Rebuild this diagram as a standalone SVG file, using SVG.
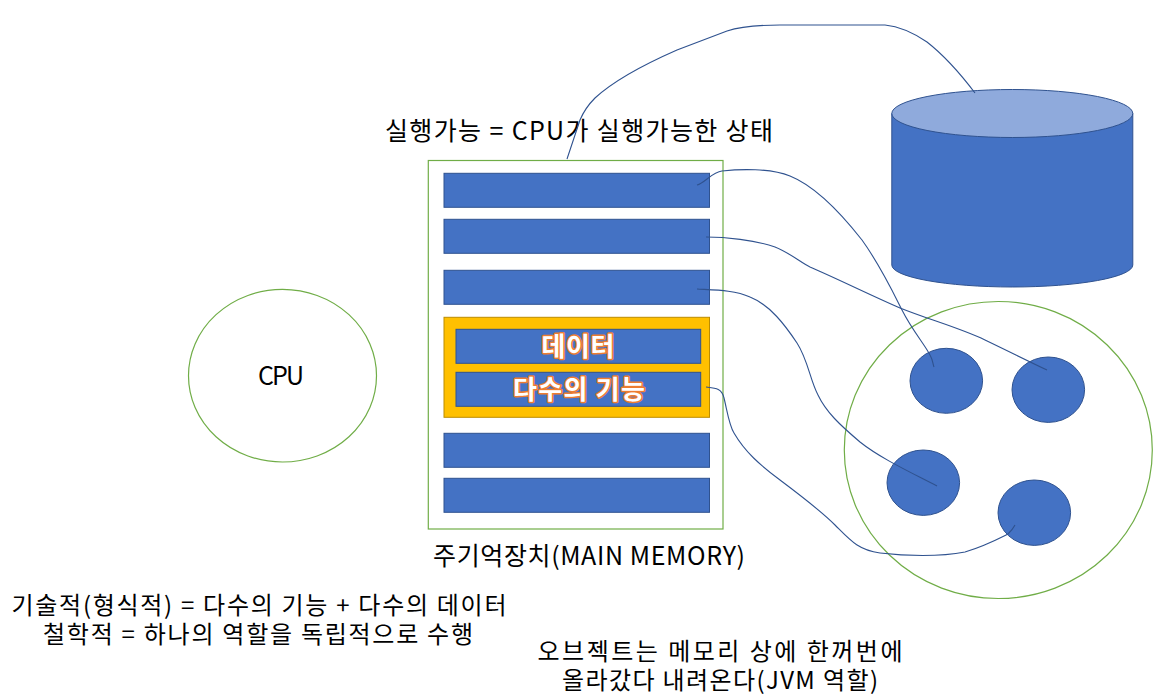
<svg xmlns="http://www.w3.org/2000/svg" width="1159" height="700" viewBox="0 0 1159 700">
<style>
.t{font-family:"Noto Sans CJK KR","Noto Sans",sans-serif;font-size:25px;fill:#000;}
.n{font-family:"Noto Sans CJK KR","Noto Sans",sans-serif;font-size:24px;fill:#000;}
.bar{fill:#4472C4;stroke:#2F528F;stroke-width:1;}
.obj{fill:#4472C4;stroke:#2F528F;stroke-width:1;}
.grn{fill:none;stroke:#70AD47;stroke-width:1.2;}
.lbl{font-family:"Noto Sans CJK KR","Noto Sans",sans-serif;font-size:26px;font-weight:bold;fill:#fff;stroke:#ED7D31;stroke-width:3;paint-order:stroke;stroke-linejoin:round;}
.con{fill:none;stroke:#2F528F;stroke-width:1.1;}
</style>
<rect width="1159" height="700" fill="#fff"/>
<g id="cpu">
<ellipse class="grn" cx="282.5" cy="375.7" rx="94" ry="86.3"/>
<text class="t" x="281" y="385" text-anchor="middle" textLength="46">CPU</text>
</g>
<g id="title">
<text class="t" x="579" y="140" text-anchor="middle" textLength="388">실행가능 = CPU가 실행가능한 상태</text>
</g>
<g id="main-memory">
<rect class="grn" x="428.3" y="160.5" width="294.7" height="368.5" fill="#fff"/>
<rect class="bar" x="444" y="173.3" width="265.5" height="34"/>
<rect class="bar" x="444" y="219.3" width="265.5" height="34"/>
<rect class="bar" x="444" y="270.3" width="265.5" height="34"/>
<g id="object-block">
<rect x="444" y="317.3" width="265.5" height="100" fill="#FFC000" stroke="#BC8C00" stroke-width="1"/>
<rect class="bar" x="456" y="329.3" width="244.7" height="34"/>
<text class="lbl" x="578" y="356" text-anchor="middle" textLength="73">데이터</text>
<rect class="bar" x="456" y="372.3" width="244.7" height="34"/>
<text class="lbl" x="579" y="399" text-anchor="middle" textLength="132">다수의 기능</text>
</g>
<rect class="bar" x="444" y="433.3" width="265.5" height="34"/>
<rect class="bar" x="444" y="478.3" width="265.5" height="34"/>
<text class="t" x="589" y="565" text-anchor="middle" textLength="312">주기억장치(MAIN MEMORY)</text>
</g>
<g id="disk">
<path d="M891.8,113.5 L891.8,265 A120.5,22 0 0 0 1132.8,265 L1132.8,113.5 Z" fill="#4472C4" stroke="#2F528F" stroke-width="1"/>
<ellipse cx="1012.3" cy="113.5" rx="120.5" ry="24" fill="#8FAADC" stroke="#2F528F" stroke-width="1"/>
</g>
<g id="heap">
<ellipse class="grn" cx="998.3" cy="450" rx="154" ry="148.5"/>
<ellipse class="obj" cx="946.3" cy="380.8" rx="36.3" ry="32.5"/>
<ellipse class="obj" cx="1048.3" cy="389.7" rx="36.3" ry="32.7"/>
<ellipse class="obj" cx="923.3" cy="482.7" rx="36.3" ry="32.7"/>
<ellipse class="obj" cx="1034.3" cy="512.7" rx="36.3" ry="32.7"/>
</g>
<g id="connectors">
<path class="con" d="M567,159 L580,120 Q585,108 595,98 Q620,75 677,50 L727,31 Q745,25 780,25 L885,25 Q905,27 927,42 Q950,60 975,93"/>
<path class="con" d="M697,185 C705,183 712,172 722,171 C740,169 770,168 790,176 C815,186 840,212 862,240 C880,265 892,290 902,310 C912,330 925,345 930,355 C933,360 933,365 934,367"/>
<path class="con" d="M706,237 C725,237 755,240 775,247 C790,253 800,262 810,267 C840,280 870,295 900,308 C930,320 960,328 985,340 C1010,352 1030,362 1047,370"/>
<path class="con" d="M697,289 C715,290 735,290 750,297 C770,305 785,325 797,343 C808,360 810,380 818,395 C826,412 840,425 860,442 C880,458 910,472 937,486"/>
<path class="con" d="M706,387 C715,388 722,388 724,398 C727,410 729,425 734,433 C745,452 760,465 780,480 C800,495 820,510 835,525 C850,540 858,550 880,553 C905,556 940,557 965,552 C985,546 1000,538 1008,534 C1012,530 1014,527 1015,525"/>
</g>
<g id="notes">
<text class="n" x="259" y="614" text-anchor="middle" textLength="495">기술적(형식적) = 다수의 기능 + 다수의 데이터</text>
<text class="n" x="258" y="643" text-anchor="middle" textLength="430">철학적 = 하나의 역할을 독립적으로 수행</text>
<text class="n" x="720" y="660" text-anchor="middle" textLength="365">오브젝트는 메모리 상에 한꺼번에</text>
<text class="n" x="720" y="689" text-anchor="middle" textLength="316">올라갔다 내려온다(JVM 역할)</text>
</g>
</svg>
